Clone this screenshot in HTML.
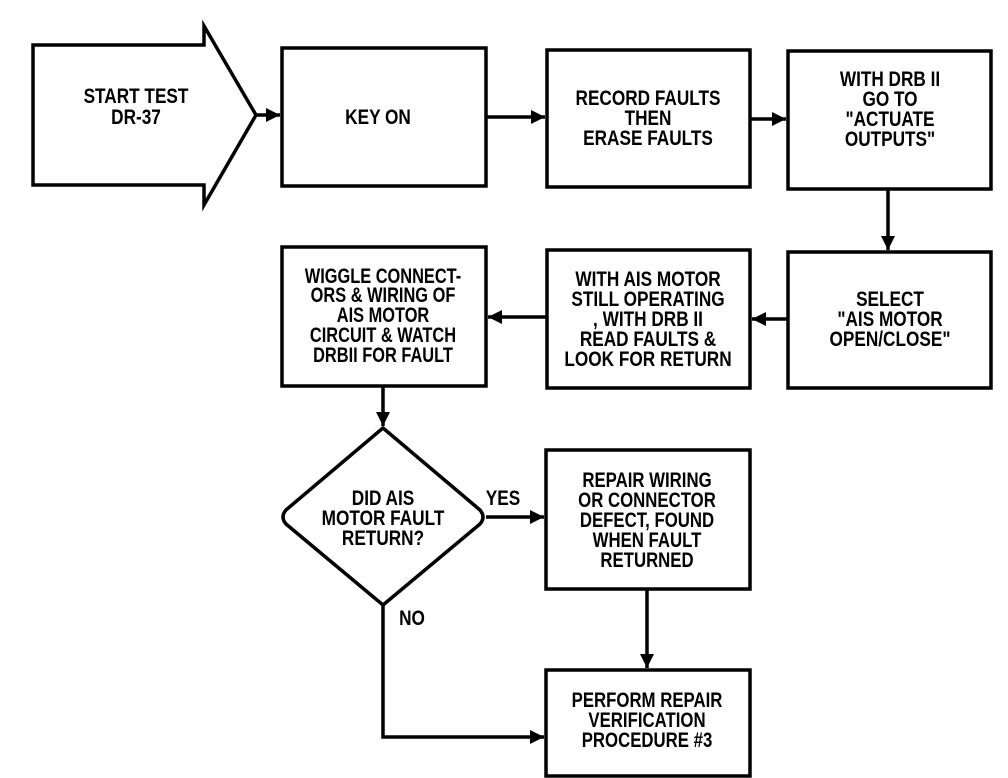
<!DOCTYPE html>
<html><head><meta charset="utf-8"><style>
html,body{margin:0;padding:0;background:#fff;}
svg{display:block;}
text{font-family:"Liberation Sans",sans-serif;font-weight:bold;font-size:21px;fill:#000;}
</style></head><body>
<svg width="1008" height="778" viewBox="0 0 1008 778" xmlns="http://www.w3.org/2000/svg">
<defs>
<marker id="a" viewBox="0 0 10 10" refX="10" refY="5" markerWidth="4" markerHeight="4" orient="auto"><path d="M0,0 L10,5 L0,10 z" fill="#000"/></marker>
</defs>
<g fill="none" stroke="#000" stroke-width="3.5">
<path d="M33,45 L204,45 L204,26 L256,115 L204,205 L204,185 L33,185 Z" stroke-linejoin="miter"/>
<rect x="282" y="48" width="204" height="138"/>
<rect x="547" y="50" width="203" height="137"/>
<rect x="788" y="51" width="203" height="138"/>
<rect x="788" y="252" width="203" height="136"/>
<rect x="547" y="250" width="203" height="138"/>
<rect x="282" y="247" width="204" height="139"/>
<path d="M383,428 L480,510 Q486,517 480,524 L383,605 L286,524 Q280,517 286,510 Z" stroke-linejoin="round"/>
<rect x="546" y="450" width="204" height="139"/>
<rect x="546" y="670" width="204" height="106"/>
<line x1="256" y1="115" x2="280" y2="115" marker-end="url(#a)"/>
<line x1="486" y1="117" x2="545" y2="117" marker-end="url(#a)"/>
<line x1="750" y1="119" x2="786" y2="119" marker-end="url(#a)"/>
<line x1="888" y1="189" x2="888" y2="250" marker-end="url(#a)"/>
<line x1="788" y1="319" x2="752" y2="319" marker-end="url(#a)"/>
<line x1="547" y1="317" x2="488" y2="317" marker-end="url(#a)"/>
<line x1="383" y1="386" x2="383" y2="426" marker-end="url(#a)"/>
<line x1="486" y1="517" x2="544" y2="517" marker-end="url(#a)"/>
<line x1="647" y1="589" x2="647" y2="668" marker-end="url(#a)"/>
<polyline points="383,605 383,737 544,737" marker-end="url(#a)"/>
</g>
<g text-anchor="middle">
<g transform="translate(136,0) scale(0.82,1)"><text x="0" y="103">START TEST</text><text x="0" y="124">DR-37</text></g>
<g transform="translate(378,0) scale(0.82,1)"><text x="0" y="124">KEY ON</text></g>
<g transform="translate(648,0) scale(0.82,1)"><text x="0" y="105">RECORD FAULTS</text><text x="0" y="125">THEN</text><text x="0" y="145">ERASE FAULTS</text></g>
<g transform="translate(890,0) scale(0.82,1)"><text x="0" y="86">WITH DRB II</text><text x="0" y="106">GO TO</text><text x="0" y="126">"ACTUATE</text><text x="0" y="146">OUTPUTS"</text></g>
<g transform="translate(890,0) scale(0.82,1)"><text x="0" y="306">SELECT</text><text x="0" y="326">"AIS MOTOR</text><text x="0" y="346">OPEN/CLOSE"</text></g>
<g transform="translate(648,0) scale(0.82,1)"><text x="0" y="286">WITH AIS MOTOR</text><text x="0" y="306">STILL OPERATING</text><text x="0" y="326">, WITH DRB II</text><text x="0" y="346">READ FAULTS &amp;</text><text x="0" y="366">LOOK FOR RETURN</text></g>
<g transform="translate(383,0) scale(0.78,1)"><text x="0" y="283">WIGGLE CONNECT-</text><text x="0" y="302">ORS &amp; WIRING OF</text><text x="0" y="322">AIS MOTOR</text><text x="0" y="342">CIRCUIT &amp; WATCH</text><text x="0" y="362">DRBII FOR FAULT</text></g>
<g transform="translate(383,0) scale(0.82,1)"><text x="0" y="505">DID AIS</text><text x="0" y="525">MOTOR FAULT</text><text x="0" y="545">RETURN?</text></g>
<g transform="translate(503,0) scale(0.82,1)"><text x="0" y="505">YES</text></g>
<g transform="translate(412,0) scale(0.82,1)"><text x="0" y="625">NO</text></g>
<g transform="translate(647,0) scale(0.8,1)"><text x="0" y="487">REPAIR WIRING</text><text x="0" y="507">OR CONNECTOR</text><text x="0" y="527">DEFECT, FOUND</text><text x="0" y="547">WHEN FAULT</text><text x="0" y="567">RETURNED</text></g>
<g transform="translate(647,0) scale(0.8,1)"><text x="0" y="707">PERFORM REPAIR</text><text x="0" y="727">VERIFICATION</text><text x="0" y="747">PROCEDURE #3</text></g>
</g>
</svg>
</body></html>
